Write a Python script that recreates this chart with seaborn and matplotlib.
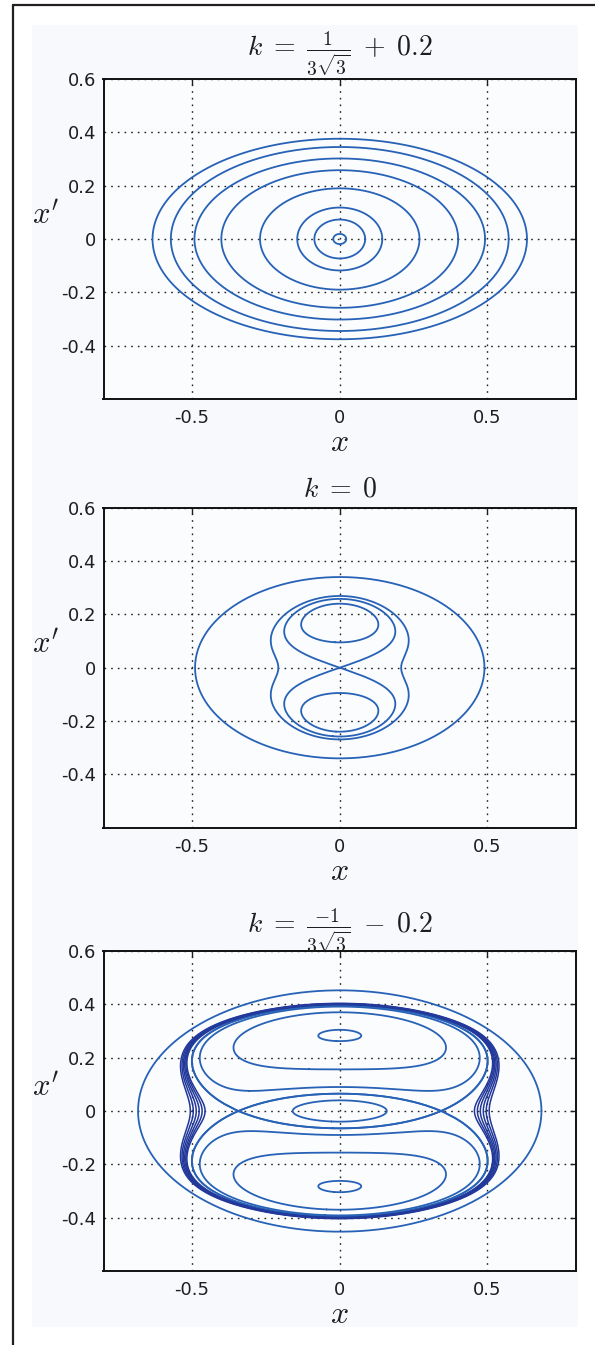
import numpy as np
import matplotlib
matplotlib.use("Agg")
import matplotlib.pyplot as plt
import seaborn as sns
import contourpy
from matplotlib.lines import Line2D
from matplotlib.patches import Rectangle

# ---------------------------------------------------------------- data
# k = 1/(3*sqrt(3)) + 0.2 : nested orbits around the origin (semi-axes)
ring_x = [0.022, 0.086, 0.144, 0.270, 0.401, 0.492, 0.572, 0.634]
ring_y = [0.019, 0.073, 0.118, 0.190, 0.258, 0.302, 0.345, 0.376]

# outermost, nearly elliptic orbit for k = 0 and for k < 0 (semi-axes)
outer_x = [0.490, 0.683]
outer_y = [0.340, 0.4525]

# invariant of the map inside, written as sum c * x^p * y^q
powers = [(2, 0), (4, 0), (6, 0), (0, 2), (0, 4), (2, 2), (2, 4), (4, 2)]
coef_k0 = [0.00964, 0.0, 0.0, -0.0666, 1.0, 0.837, 0.0, 0.0]
coef_kneg = [-0.01129, 0.04799, 0.0, -0.1614, 1.0, 0.5816, -1.236, -0.523]

# k = 0 : one point on each drawn orbit
seed0_x = [0.0, 0.0, 0.0, 0.0]
seed0_y = [0.240, -0.240, 0.0, 0.269]

# k = -1/(3*sqrt(3)) - 0.2 : one point on each drawn orbit
seedn_x = [0.0, 0.343, -0.343, 0.0, 0.0, 0.0, 0.0, 0.0, 0.0]
seedn_y = [0.040, 0.0, 0.0, 0.090, -0.090, 0.156, -0.156, 0.262, -0.262]
# chaotic layer just outside the separatrix (crossings of the x axis)
layer_x = [0.456, 0.466, 0.476, 0.486, 0.496, 0.506]
layer_y = [0.0] * len(layer_x)

titles = [r"$k\;=\;\frac{1}{3\sqrt{3}}\;+\;0.2$", r"$k\;=\;0$",
          r"$k\;=\;\frac{-1}{3\sqrt{3}}\;-\;0.2$"]
title_pads = [16.5, 8.0, 13.0]
xtick_vals = [-0.5, 0, 0.5]
xtick_txt = ["-0.5", "0", "0.5"]
ytick_vals = [-0.4, -0.2, 0, 0.2, 0.4, 0.6]
ytick_txt = ["-0.4", "-0.2", "0", "0.2", "0.4", "0.6"]

# ---------------------------------------------------------------- style
sns.set_theme(style="white")
plt.rcParams["font.family"] = ["DejaVu Sans"]
plt.rcParams["mathtext.fontset"] = "cm"

ORBIT = "#2762b6"
LAYER = "#22389a"
INK = "#1e1e1e"

W, H = 595, 1345
fig = plt.figure(figsize=(W / 100, H / 100), dpi=100)
fig.patch.set_facecolor("white")
fig.add_artist(Rectangle((32 / W, 1 - 1327 / H), (578 - 32) / W, (1327 - 25) / H,
                         transform=fig.transFigure, facecolor="#f8f9fd",
                         edgecolor="none", zorder=-10))
fig.add_artist(Line2D([12.5 / W, 1.0], [1 - 4.5 / H] * 2, transform=fig.transFigure,
                      color="#231f20", lw=1.6))
fig.add_artist(Line2D([12.5 / W] * 2, [0.0, 1 - 4.5 / H], transform=fig.transFigure,
                      color="#231f20", lw=1.6))

left, width, height = 103.5 / W, 472.5 / W, 320 / H
bottoms = [1 - 399 / H, 1 - 827.7 / H, 1 - 1271 / H]
axes = [fig.add_axes([left, b, width, height]) for b in bottoms]

gx = np.linspace(-0.8, 0.8, 1200)
gy = np.linspace(-0.6, 0.6, 900)
GX, GY = np.meshgrid(gx, gy)


def invariant(x, y, coef):
    return sum(c * x ** p * y ** q for c, (p, q) in zip(coef, powers))


def orbits_through(gen, coef, sx, sy, tol=0.008):
    """Contour pieces of the invariant level that pass by (sx, sy)."""
    lines = gen.lines(invariant(sx, sy, coef))
    dist = [np.min(np.hypot(p[:, 0] - sx, p[:, 1] - sy)) for p in lines]
    keep = [p for p, d in zip(lines, dist) if d < max(tol, min(dist) + 1e-9)]
    out = []
    for p in keep:
        if np.hypot(*(p[0] - p[-1])) < 0.02:
            p = np.vstack([p, p[:1]])
        out.append(p)
    return out


def draw(ax, xs, ys, color, lw=1.3):
    sns.lineplot(x=xs, y=ys, sort=False, estimator=None, ax=ax,
                 color=color, linewidth=lw)


t = np.linspace(0, 2 * np.pi, 721)

# panel 1: nested orbits
for a, b in zip(ring_x, ring_y):
    draw(axes[0], a * np.cos(t), b * np.sin(t), ORBIT)

# panel 2
gen0 = contourpy.contour_generator(gx, gy, invariant(GX, GY, coef_k0), line_type="Separate")
for sx, sy in zip(seed0_x, seed0_y):
    for seg in orbits_through(gen0, coef_k0, sx, sy):
        draw(axes[1], seg[:, 0], seg[:, 1], ORBIT)
draw(axes[1], outer_x[0] * np.cos(t), outer_y[0] * np.sin(t), ORBIT)

# panel 3
genn = contourpy.contour_generator(gx, gy, invariant(GX, GY, coef_kneg), line_type="Separate")
for sx, sy in zip(seedn_x, seedn_y):
    for seg in orbits_through(genn, coef_kneg, sx, sy):
        draw(axes[2], seg[:, 0], seg[:, 1], ORBIT)
for sx, sy in zip(layer_x, layer_y):
    for seg in orbits_through(genn, coef_kneg, sx, sy):
        draw(axes[2], seg[:, 0], seg[:, 1], LAYER, 1.1)
draw(axes[2], outer_x[1] * np.cos(t), outer_y[1] * np.sin(t), ORBIT)

for ax, title, tp in zip(axes, titles, title_pads):
    ax.set_facecolor("#fbfcfe")
    ax.set_xlim(-0.8, 0.8)
    ax.set_ylim(-0.6, 0.6)
    ax.set_xticks(xtick_vals)
    ax.set_xticklabels(xtick_txt)
    ax.set_yticks(ytick_vals)
    ax.set_yticklabels(ytick_txt)
    ax.tick_params(direction="in", length=4, width=1, top=True, right=True,
                   labelsize=13, colors=INK)
    ax.tick_params(axis="x", pad=7.5)
    ax.tick_params(axis="y", pad=5)
    for sp in ax.spines.values():
        sp.set_visible(True)
        sp.set_color("#111111")
        sp.set_linewidth(1.4)
    ax.grid(True, color="#222222", linestyle=(0, (1.2, 3.6)), linewidth=1.0)
    ax.set_axisbelow(True)
    ax.set_title(title, fontsize=20, pad=tp, color=INK)
    ax.set_xlabel(r"$x$", fontsize=23, labelpad=0, color=INK)
    ax.set_ylabel(r"$x'$", fontsize=22, rotation=0, color=INK)
    ax.yaxis.set_label_coords(-0.122, 0.53)

fig.savefig("out.png", dpi=100)
